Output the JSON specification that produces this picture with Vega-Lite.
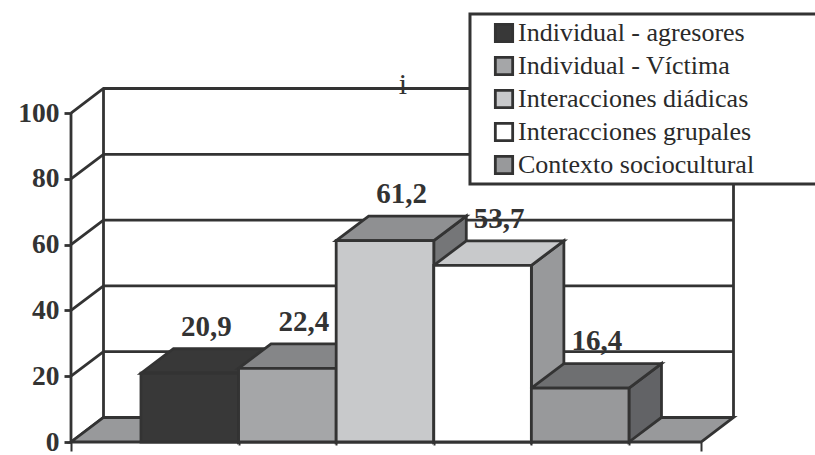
{
  "$schema": "https://vega.github.io/schema/vega-lite/v6.json",
  "width": 744,
  "height": 442,
  "padding": {"left": 71, "top": 0, "right": 0, "bottom": 13},
  "autosize": {"type": "none"},
  "background": "white",
  "config": {
    "view": {"stroke": null},
    "locale": {"number": {"decimal": ",", "thousands": ".", "grouping": [3], "currency": ["", " €"]}},
    "font": "Liberation Serif"
  },
  "params": [
    {"name": "dx", "value": 0.333},
    {"name": "dy", "value": 7.45},
    {"name": "ancho", "value": 6.455}
  ],
  "layer": [
    {
      "description": "Back wall grid: each level runs up the left wall, then along the back",
      "data": {"values": [{"nivel": 0}, {"nivel": 20}, {"nivel": 40}, {"nivel": 60}, {"nivel": 80}, {"nivel": 100}]},
      "transform": [
        {"calculate": "[0, dx, dx + ancho]", "as": "xs"},
        {"calculate": "[datum.nivel, datum.nivel + dy, datum.nivel + dy]", "as": "ys"},
        {"flatten": ["xs", "ys"]}
      ],
      "mark": {"type": "line", "stroke": "#333333", "strokeWidth": 2.8},
      "encoding": {
        "detail": {"field": "nivel"},
        "x": {"field": "xs", "type": "quantitative", "scale": {"domain": [0, 7.623], "nice": false, "zero": false},
          "axis": {"values": [0, 1.717, 2.717, 3.717, 4.717, 5.717, 6.455], "labels": false, "title": null, "grid": false, "domain": false,
            "tickColor": "#333333", "tickWidth": 2,
            "tickSize": {"condition": {"test": "datum.value < 0.1 || datum.value > 6", "value": 9}, "value": 3}}},
        "y": {"field": "ys", "type": "quantitative", "scale": {"domain": [0, 134.35], "nice": false, "zero": false},
          "axis": {"values": [0, 20, 40, 60, 80, 100], "title": null, "grid": false, "domain": false,
            "tickColor": "#333333", "tickWidth": 2.8, "tickSize": 7, "labelPadding": 5,
            "labelFont": "Liberation Serif", "labelFontWeight": "bold", "labelFontSize": 27.5, "labelColor": "#333333"}}
      }
    },
    {
      "description": "Left wall edge and front axis lines",
      "data": {"values": [{"x": 0, "a": 0, "b": 100}, {"x": 0.333, "a": 7.45, "b": 107.45}, {"x": 6.788, "a": 7.45, "b": 107.45}]},
      "mark": {"type": "rule", "stroke": "#333333", "strokeWidth": 2.8},
      "encoding": {
        "x": {"field": "x", "type": "quantitative", "scale": {"domain": [0, 7.623], "nice": false, "zero": false}, "axis": null},
        "y": {"field": "a", "type": "quantitative", "scale": {"domain": [0, 134.35], "nice": false, "zero": false}, "axis": null},
        "y2": {"field": "b"}
      }
    },
    {
      "description": "Floor of the chart box",
      "data": {"values": [{"nivel": 0}]},
      "transform": [
        {"calculate": "[0, dx, ancho, ancho + dx]", "as": "xs"},
        {"calculate": "[0, 0, 0, dy]", "as": "lo"},
        {"calculate": "[0, dy, dy, dy]", "as": "hi"},
        {"flatten": ["xs", "lo", "hi"]}
      ],
      "mark": {"type": "area", "fill": "#98999b", "stroke": "#333333", "strokeWidth": 2.8},
      "encoding": {
        "x": {"field": "xs", "type": "quantitative", "scale": {"domain": [0, 7.623], "nice": false, "zero": false}, "axis": null},
        "y": {"field": "lo", "type": "quantitative", "stack": null, "scale": {"domain": [0, 134.35], "nice": false, "zero": false}, "axis": null},
        "y2": {"field": "hi"}
      }
    },
    {
      "description": "The five bars: sides, then tops, then front faces and value labels",
      "data": {"values": [
        {"categoria": "Individual - agresores", "valor": 20.9},
        {"categoria": "Individual - Víctima", "valor": 22.4},
        {"categoria": "Interacciones diádicas", "valor": 61.2},
        {"categoria": "Interacciones grupales", "valor": 53.7},
        {"categoria": "Contexto sociocultural", "valor": 16.4}
      ]},
      "transform": [
        {"window": [{"op": "row_number", "as": "orden"}]},
        {"calculate": "datum.orden - 0.283", "as": "x0"},
        {"calculate": "datum.x0 + 1", "as": "x1"}
      ],
      "layer": [
        {
          "transform": [
            {"calculate": "[datum.x1, datum.x1 + dx]", "as": "xs"},
            {"calculate": "[0, dy]", "as": "lo"},
            {"calculate": "[datum.valor, datum.valor + dy]", "as": "hi"},
            {"flatten": ["xs", "lo", "hi"]}
          ],
          "mark": {"type": "area", "stroke": "#333333", "strokeWidth": 2.8},
          "encoding": {
            "x": {"field": "xs", "type": "quantitative", "scale": {"domain": [0, 7.623], "nice": false, "zero": false}, "axis": null},
            "y": {"field": "lo", "type": "quantitative", "stack": null, "scale": {"domain": [0, 134.35], "nice": false, "zero": false}, "axis": null},
            "y2": {"field": "hi"},
            "fill": {"field": "categoria", "type": "nominal", "legend": null,
              "scale": {"domain": ["Individual - agresores", "Individual - Víctima", "Interacciones diádicas", "Interacciones grupales", "Contexto sociocultural"],
                "range": ["#383838", "#77787a", "#757678", "#98999b", "#626366"]}}
          }
        },
        {
          "transform": [
            {"calculate": "[datum.x0, datum.x0 + dx, datum.x1, datum.x1 + dx]", "as": "xs"},
            {"calculate": "[datum.valor, datum.valor, datum.valor, datum.valor + dy]", "as": "lo"},
            {"calculate": "[datum.valor, datum.valor + dy, datum.valor + dy, datum.valor + dy]", "as": "hi"},
            {"flatten": ["xs", "lo", "hi"]}
          ],
          "mark": {"type": "area", "stroke": "#333333", "strokeWidth": 2.8},
          "encoding": {
            "x": {"field": "xs", "type": "quantitative", "scale": {"domain": [0, 7.623], "nice": false, "zero": false}, "axis": null},
            "y": {"field": "lo", "type": "quantitative", "stack": null, "scale": {"domain": [0, 134.35], "nice": false, "zero": false}, "axis": null},
            "y2": {"field": "hi"},
            "fill": {"field": "categoria", "type": "nominal", "legend": null,
              "scale": {"domain": ["Individual - agresores", "Individual - Víctima", "Interacciones diádicas", "Interacciones grupales", "Contexto sociocultural"],
                "range": ["#383838", "#858688", "#8f9092", "#c8c9cb", "#6e6f71"]}}
          }
        },
        {
          "mark": {"type": "rect", "stroke": "#333333", "strokeWidth": 2.8},
          "encoding": {
            "x": {"field": "x0", "type": "quantitative", "scale": {"domain": [0, 7.623], "nice": false, "zero": false}, "axis": null},
            "x2": {"field": "x1"},
            "y": {"field": "valor", "type": "quantitative", "scale": {"domain": [0, 134.35], "nice": false, "zero": false}, "axis": null},
            "y2": {"datum": 0},
            "fill": {"field": "categoria", "type": "nominal",
              "scale": {"domain": ["Individual - agresores", "Individual - Víctima", "Interacciones diádicas", "Interacciones grupales", "Contexto sociocultural"],
                "range": ["#383838", "#a5a6a8", "#c8c9cb", "#ffffff", "#98999b"]},
              "legend": {"title": null, "orient": "none", "legendX": 420, "legendY": 20, "padding": 0,
                "symbolType": "square", "symbolSize": 300, "symbolStrokeColor": "#333333", "symbolStrokeWidth": 2.8,
                "labelFont": "Liberation Serif", "labelFontSize": 26, "labelColor": "#2a2a2a", "labelOffset": 1, "rowPadding": 3, "labelLimit": 300}}
          }
        },
        {
          "transform": [
            {"calculate": "datum.x0 + 0.67", "as": "xt"},
            {"calculate": "datum.valor + 14.2", "as": "yt"}
          ],
          "mark": {"type": "text", "font": "Liberation Serif", "fontWeight": "bold", "fontSize": 29, "fill": "#333333", "baseline": "middle"},
          "encoding": {
            "x": {"field": "xt", "type": "quantitative", "scale": {"domain": [0, 7.623], "nice": false, "zero": false}, "axis": null},
            "y": {"field": "yt", "type": "quantitative", "scale": {"domain": [0, 134.35], "nice": false, "zero": false}, "axis": null},
            "text": {"field": "valor", "type": "quantitative", "format": ".1f"}
          }
        }
      ],
      "resolve": {"scale": {"fill": "independent"}}
    },
    {
      "description": "Small mark on the top grid line",
      "data": {"values": [{"nota": "i", "x": 3.4, "y": 108.5}]},
      "mark": {"type": "text", "font": "Liberation Serif", "fontSize": 30, "fill": "#333333", "baseline": "middle"},
      "encoding": {
        "x": {"field": "x", "type": "quantitative", "scale": {"domain": [0, 7.623], "nice": false, "zero": false}, "axis": null},
        "y": {"field": "y", "type": "quantitative", "scale": {"domain": [0, 134.35], "nice": false, "zero": false}, "axis": null},
        "text": {"field": "nota"}
      }
    },
    {
      "description": "White panel behind the legend",
      "data": {"values": [{"x": 4.088, "x2": 7.8, "y": 78.4, "y2": 130.1}]},
      "mark": {"type": "rect", "fill": "white", "stroke": "#333333", "strokeWidth": 3},
      "encoding": {
        "x": {"field": "x", "type": "quantitative", "scale": {"domain": [0, 7.623], "nice": false, "zero": false}, "axis": null},
        "x2": {"field": "x2"},
        "y": {"field": "y", "type": "quantitative", "scale": {"domain": [0, 134.35], "nice": false, "zero": false}, "axis": null},
        "y2": {"field": "y2"}
      }
    }
  ],
  "resolve": {"scale": {"fill": "independent"}, "axis": {"x": "independent", "y": "independent"}}
}
